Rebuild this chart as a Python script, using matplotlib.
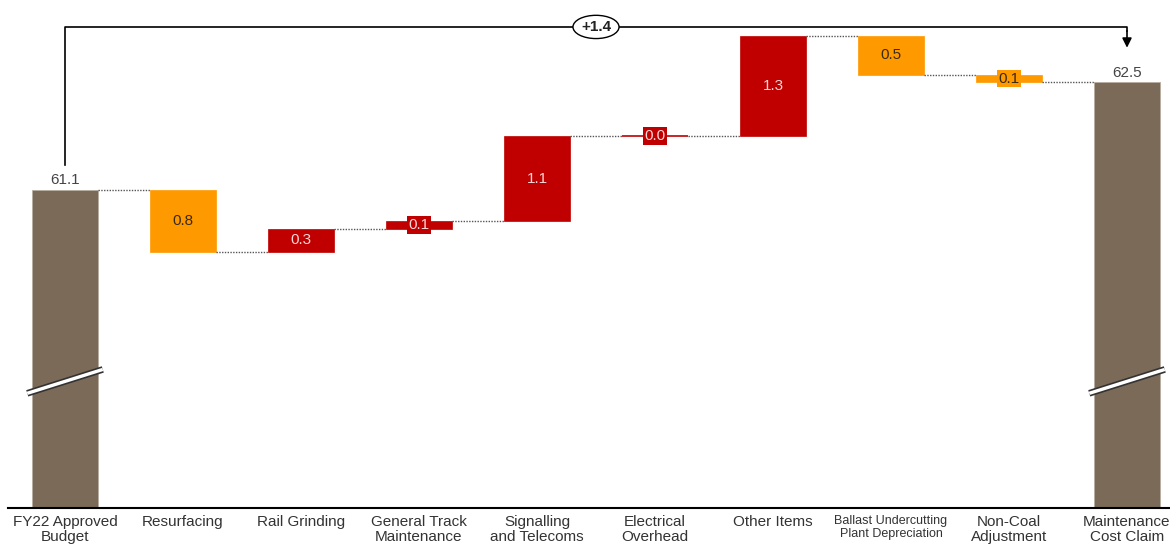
import matplotlib.pyplot as plt
import numpy as np

# Dữ liệu waterfall
categories = ["FY22 Approved\nBudget", "Resurfacing", "Rail Grinding",
              "General Track\nMaintenance", "Signalling\nand Telecoms",
              "Electrical\nOverhead", "Other Items",
              "Ballast Undercutting\nPlant Depreciation", "Non-Coal\nAdjustment",
              "Maintenance\nCost Claim"]
start_value = 61.1
changes = [-0.8, 0.3, 0.1, 1.1, 0.0, 1.3, -0.5, -0.1]
end_value = 62.5
total_change_label = "+1.4"

plt.rcParams['font.family'] = ['Liberation Sans', 'DejaVu Sans']

brown = '#7b6a57'
red = '#c00000'
orange = '#ff9900'

fig = plt.figure(figsize=(11.7, 5.46), dpi=100)
ax = fig.add_axes([0, 38 / 546, 1, 508 / 546])
ybot, ytop = 56.97, 63.57
ax.set_xlim(-65 / 118, (1170 - 65) / 118)
ax.set_ylim(ybot, ytop)
ax.axis('off')

width = 0.56
n = len(categories)
x = np.arange(n)

# Cột đầu và cột cuối (tổng)
ax.bar(0, start_value - ybot, bottom=ybot, width=width, color=brown,
       edgecolor='#b8aca0', linewidth=0.6)
ax.bar(n - 1, end_value - ybot, bottom=ybot, width=width, color=brown,
       edgecolor='#b8aca0', linewidth=0.6)
for xi, val in [(0, start_value), (n - 1, end_value)]:
    ax.annotate(f"{val:.1f}", (xi, val), xytext=(0, 2), textcoords='offset points',
                ha='center', va='bottom', fontsize=11, color='#444444')

# Các cột thay đổi
levels = [start_value]
for i, d in enumerate(changes):
    xi = i + 1
    prev = levels[-1]
    new = round(prev + d, 2)
    levels.append(new)
    color = red if d >= 0 else orange
    txt_color = '#f6d6d6' if d >= 0 else '#3a2a10'
    lo = min(prev, new)
    h = abs(d)
    if h == 0:
        ax.hlines(prev, xi - width / 2, xi + width / 2, color=color, linewidth=1.2)
    else:
        ax.bar(xi, h, bottom=lo, width=width, color=color, edgecolor=color,
               linewidth=0.5)
    box = None
    if h < 0.2:
        box = dict(boxstyle='square,pad=0.12', facecolor=color, edgecolor='none')
    ax.text(xi, lo + h / 2, f"{abs(d):.1f}", ha='center', va='center',
            fontsize=11, color=txt_color, bbox=box)

# Đường nối chấm giữa các cột
for i in range(n - 1):
    ax.plot([i + width / 2, i + 1 - width / 2], [levels[i], levels[i]],
            linestyle=(0, (1, 1)), color='#555555', linewidth=1)

# Dấu ngắt trục trên cột đầu và cuối
for xi in [0, n - 1]:
    xs = [xi - 0.32, xi + 0.32]
    ys = [58.46, 58.77]
    ax.plot(xs, ys, color='#333333', linewidth=4.8, solid_capstyle='butt')
    ax.plot(xs, ys, color='white', linewidth=2.4, solid_capstyle='butt')

# Khung mũi tên tổng thay đổi
y_br = max(levels) + 0.12
ax.plot([0, 0, n - 1, n - 1], [start_value + 0.33, y_br, y_br, y_br - 0.05],
        color='black', linewidth=1.2)
ax.annotate('', xy=(n - 1, end_value + 0.45), xytext=(n - 1, y_br - 0.05),
            arrowprops=dict(arrowstyle='-|>', color='black', lw=1.2,
                            mutation_scale=14, shrinkA=0, shrinkB=0))
ax.text((n - 1) / 2, y_br, total_change_label, ha='center', va='center',
        fontsize=11, fontweight='bold', color='#222222',
        bbox=dict(boxstyle='ellipse,pad=0.08', facecolor='white',
                  edgecolor='black', linewidth=1))

# Trục hoành
ax.plot([-0.483, (1170 - 65) / 118], [ybot, ybot], color='black',
        linewidth=1.5, clip_on=False)
for xi, lab in zip(x, categories):
    small = lab.startswith("Ballast")
    ax.annotate(lab, (xi, ybot), xytext=(0, -5), textcoords='offset points',
                ha='center', va='top', fontsize=9 if small else 11,
                color='#333333', linespacing=1.15 if small else 1.1,
                annotation_clip=False)

plt.savefig('out.png', dpi=100)
plt.close()
